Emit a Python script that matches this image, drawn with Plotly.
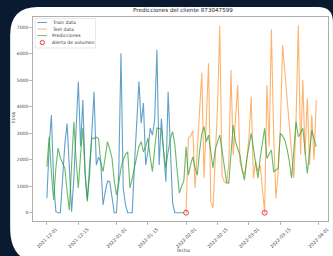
import pandas as pd
import plotly.graph_objects as go

# ---------------- data ----------------
train_start = "2021-12-01"
train_values = [550, 2500, 3690, 1200, 40, 0, 0, 1500, 2600, 3370,
                1600, 40, 1300, 3000, 4950, 2500, 4250, 1500, 500, 1400,
                2900, 4570, 1800, 2100, 1900, 290, 800, 1200, 1170, 670,
                0, 0, 1500, 6020, 930, 300, 0, 0, 0, 1800,
                3200, 4950, 3380, 4140, 1800, 2300, 3190, 2930, 3500, 6140,
                1800, 3560, 2300, 1170, 4570, 2060, 370, 0, 0, 0,
                0, 0]

test_start = "2022-02-01"
test_values = [0, 2800, 2900, 3100, 930, 2500, 4000, 5280, 1300, 3500,
               5640, 420, 180, 2060, 4000, 7050, 1420, 1170, 1100, 1800,
               5390, 2170, 3500, 4820, 1940, 1600, 1420, 1940, 2800, 4380,
               1300, 1940, 1550, 1800, 900, 0, 4820, 2500, 6920, 3000,
               550, 1500, 3200, 6330, 5300, 4300, 3300, 2400, 1300, 3500,
               7080, 2200, 5010, 2200, 4320, 1800, 3690, 2000, 4250]

pred_start = "2021-12-01"
pred_values = [1740, 2870, 1500, 480, 1700, 2440, 2060, 1900, 1680, 800,
               100, 1800, 3430, 2000, 930, 2200, 3200, 1500, 420, 1800,
               2820, 2800, 2850, 2800, 1900, 1550, 2060, 2680, 2400, 2060,
               1200, 670, 1100, 1690, 2000, 2200, 2300, 930, 1300, 1690,
               2100, 2500, 2680, 2300, 2500, 2820, 2100, 1550, 2400, 3200,
               3180, 3150, 2300, 1690, 2300, 2800, 3060, 2560, 1600, 740,
               1000, 1200, 2490, 1420, 1800, 2110, 1700, 1420, 2300, 3000,
               3250, 2680, 2930, 2300, 1690, 2400, 2680, 2930, 2370, 1700,
               1170, 1100, 2200, 3310, 2680, 2450, 2170, 1600, 1230, 2000,
               2560, 3000, 2440, 1800, 1300, 2060, 2600, 3190, 2050, 2200,
               2370, 1550, 1600, 1690, 3000, 2900, 2740, 2400, 1940, 1300,
               2500, 3440, 2870, 3000, 3190, 2300, 1480, 2300, 3120, 2800,
               2490]

alert_dates = ["2022-02-01", "2022-03-08"]
alert_values = [0, 0]

x_tick_labels = ["2021-12-01", "2021-12-15", "2022-01-01", "2022-01-15",
                 "2022-02-01", "2022-02-15", "2022-03-01", "2022-03-15",
                 "2022-04-01"]
y_tick_values = [0, 1000, 2000, 3000, 4000, 5000, 6000, 7000]

title_text = "Predicciones del cliente 873047599"
legend_labels = ["Train data", "Test data", "Predicciones", "Alerta de volumen"]

# ---------------- layout geometry ----------------
W, H = 333, 256
L, R, T, B = 33, 330, 17, 221
PW, PH = R - L, B - T


def xp(px):
    return (px - L) / PW


def yp(py):
    return (B - py) / PH


train_x = pd.date_range(train_start, periods=len(train_values), freq="D")
test_x = pd.date_range(test_start, periods=len(test_values), freq="D")
pred_x = pd.date_range(pred_start, periods=len(pred_values), freq="D")

c_blue = "rgba(31,119,180,0.7)"
c_orange = "rgba(255,127,14,0.6)"
c_green = "rgba(44,160,44,0.72)"
c_red = "rgba(220,30,30,0.85)"
FONT = "DejaVu Sans"

fig = go.Figure()
fig.add_trace(go.Scatter(x=train_x, y=train_values, mode="lines",
                         line=dict(color=c_blue, width=1.1), name=legend_labels[0],
                         showlegend=False))
fig.add_trace(go.Scatter(x=test_x, y=test_values, mode="lines",
                         line=dict(color=c_orange, width=1.1), name=legend_labels[1],
                         showlegend=False))
fig.add_trace(go.Scatter(x=pred_x, y=pred_values, mode="lines",
                         line=dict(color=c_green, width=1.1), name=legend_labels[2],
                         showlegend=False))
fig.add_trace(go.Scatter(x=pd.to_datetime(alert_dates), y=alert_values, mode="markers",
                         marker=dict(symbol="circle", size=5, color="rgba(255,80,80,0.15)",
                                     line=dict(color=c_red, width=0.9)),
                         name=legend_labels[3], showlegend=False))

day0 = pd.Timestamp(train_start)
px_per_day = 2.26
x_lo = day0 + pd.Timedelta(days=(L - 47) / px_per_day)
x_hi = day0 + pd.Timedelta(days=(R - 47) / px_per_day)

shapes = []
# white card with rounded corners
card = (f"M{xp(10)},{yp(35)} Q{xp(10)},{yp(7)} {xp(38)},{yp(7)} "
        f"L{xp(320)},{yp(7)} Q{xp(335)},{yp(7)} {xp(335)},{yp(22)} "
        f"L{xp(335)},{yp(262)} L{xp(34)},{yp(262)} "
        f"Q{xp(10)},{yp(258)} {xp(10)},{yp(228)} Z")
shapes.append(dict(type="path", path=card, xref="paper", yref="paper",
                   fillcolor="white", line=dict(width=0), layer="below"))

# custom legend
shapes.append(dict(type="rect", xref="paper", yref="paper",
                   x0=xp(35), x1=xp(96), y0=yp(18.5), y1=yp(48),
                   fillcolor="rgba(255,255,255,0.85)", line=dict(color="#d8d8d8", width=0.6),
                   layer="above"))
rows = [22.5, 29.0, 35.6, 42.6]
for yy, col in zip(rows[:3], [c_blue, c_orange, c_green]):
    shapes.append(dict(type="line", xref="paper", yref="paper",
                       x0=xp(37.5), x1=xp(47), y0=yp(yy), y1=yp(yy),
                       line=dict(color=col, width=1), layer="above"))
shapes.append(dict(type="circle", xref="paper", yref="paper",
                   x0=xp(40.2), x1=xp(44.6), y0=yp(rows[3] - 2.2), y1=yp(rows[3] + 2.2),
                   fillcolor="rgba(255,80,80,0.15)", line=dict(color=c_red, width=0.9),
                   layer="above"))

annotations = []
for yy, txt in zip(rows, legend_labels):
    annotations.append(dict(text=txt, xref="paper", yref="paper", x=xp(50), y=yp(yy),
                            xanchor="left", yanchor="middle", showarrow=False,
                            font=dict(size=4.6, color="#333333", family=FONT)))
annotations.append(dict(text="litros", xref="paper", yref="paper", x=xp(13), y=yp(117),
                        xanchor="center", yanchor="middle", textangle=-90, showarrow=False,
                        font=dict(size=4.6, color="#333333", family=FONT)))
annotations.append(dict(text="fecha", xref="paper", yref="paper", x=xp(185), y=yp(250.5),
                        xanchor="center", yanchor="middle", showarrow=False,
                        font=dict(size=4.6, color="#333333", family=FONT)))

fig.update_layout(
    width=W, height=H,
    margin=dict(l=L, r=W - R, t=T, b=H - B, pad=0),
    paper_bgcolor="#0a1a30",
    plot_bgcolor="white",
    title=dict(text=title_text, x=xp(184), xref="paper", y=1 - 10.5 / H, yref="container",
               xanchor="center", yanchor="middle",
               font=dict(size=5.6, color="#222222", family=FONT)),
    font=dict(family=FONT, size=4.6, color="#444444"),
    showlegend=False,
    shapes=shapes,
    annotations=annotations,
)
fig.update_xaxes(range=[x_lo, x_hi], tickvals=pd.to_datetime(x_tick_labels),
                 ticktext=x_tick_labels, tickangle=-45, ticks="outside", ticklen=3,
                 tickwidth=0.6, tickcolor="#888888", showgrid=False, zeroline=False,
                 showline=True, linecolor="#9a9a9a", linewidth=0.8, mirror=True,
                 tickfont=dict(size=4.6, color="#444444", family=FONT),
                 ticklabelshift=9)
fig.update_yaxes(range=[-313, 7389], tickvals=y_tick_values,
                 ticks="outside", ticklen=3, tickwidth=0.6, tickcolor="#888888",
                 showgrid=False, zeroline=False, showline=True, linecolor="#9a9a9a",
                 linewidth=0.8, mirror=True,
                 tickfont=dict(size=4.5, color="#444444", family=FONT))

fig.write_html("out.html",
               config={"displayModeBar": False, "staticPlot": True},
               post_script="document.body.style.margin='0';document.body.style.padding='0';"
                           "document.documentElement.style.overflow='hidden';")
